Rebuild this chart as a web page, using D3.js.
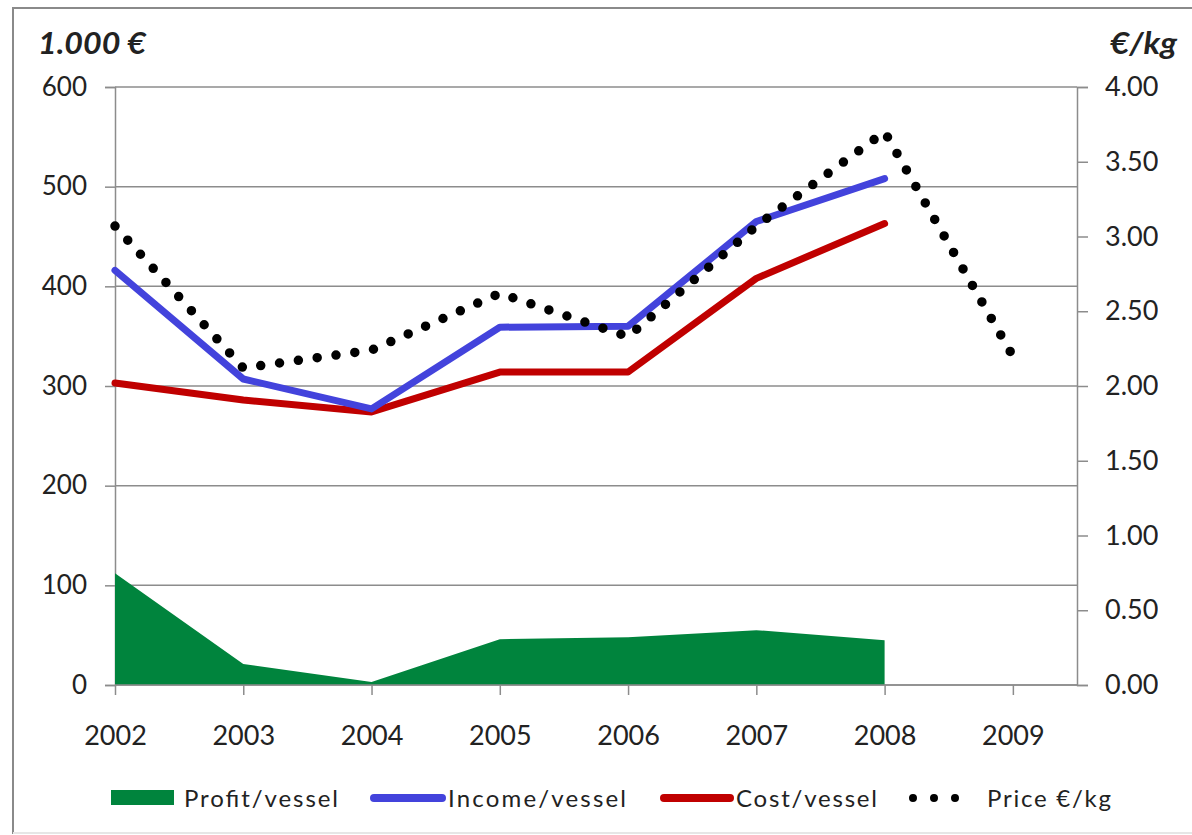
<!DOCTYPE html>
<html>
<head>
<meta charset="utf-8">
<script src="https://cdn.jsdelivr.net/npm/d3@7"></script>
<style>
  html, body { margin: 0; padding: 0; background: #fff; }
  svg { display: block; }
  text { font-family: Lato, "Noto Sans", sans-serif; fill: #222; }
</style>
</head>
<body>
<svg id="chart" width="1192" height="835"></svg>
<script>
// Fleet economics per vessel (thousand euro) and first-sale price (euro per kg)
const years = [2002, 2003, 2004, 2005, 2006, 2007, 2008, 2009];
const profit = [112, 21, 3, 46, 48, 55, 45, null];
const income = [416, 307, 277, 359, 360, 465, 508, null];
const cost = [303, 286, 274, 314, 314, 408, 463, null];
const price = [3.07, 2.12, 2.24, 2.62, 2.33, 3.07, 3.70, 2.20];

const leftTicks = [0, 100, 200, 300, 400, 500, 600];
const rightTicks = [0, 0.5, 1, 1.5, 2, 2.5, 3, 3.5, 4];

const svg = d3.select("#chart");
const W = 1192;
const plot = { left: 115, right: 1077, top: 87, bottom: 685 };

// chart frame
svg.append("rect").attr("x", 13).attr("y", 8).attr("width", W).attr("height", 825)
  .attr("fill", "#fff").attr("stroke", "#8a8a8a").attr("stroke-width", 2);
svg.append("line").attr("x1", 13).attr("x2", W).attr("y1", 833).attr("y2", 833)
  .attr("stroke", "#e6e6e6").attr("stroke-width", 2);

const x = d3.scaleLinear().domain([2002, 2009.5]).range([plot.left, plot.right]);
const yL = d3.scaleLinear().domain([0, 600]).range([plot.bottom, plot.top]);
const yR = d3.scaleLinear().domain([0, 4]).range([plot.bottom, plot.top]);

const axisColor = "#8c8c8c";

// left axis: ticks and labels
const gL = svg.append("g").attr("transform", `translate(${plot.left},0)`)
  .call(d3.axisLeft(yL).tickValues(leftTicks).tickSize(10).tickPadding(18).tickFormat(d3.format("d")));
gL.select(".domain").attr("stroke", axisColor).attr("stroke-width", 1.5);
gL.selectAll(".tick line").attr("stroke", axisColor).attr("stroke-width", 1.5);
gL.selectAll(".tick text").attr("font-size", 26).attr("font-family", "Lato").attr("fill", "#222");

// horizontal gridlines
svg.append("g").selectAll("line").data(leftTicks).join("line")
  .attr("x1", plot.left).attr("x2", plot.right)
  .attr("y1", d => yL(d)).attr("y2", d => yL(d))
  .attr("stroke", axisColor).attr("stroke-width", 1.5);

// right axis, its labels cut off at the right edge of the image
svg.append("defs").append("clipPath").attr("id", "rclip")
  .append("rect").attr("x", 1060).attr("y", 60).attr("width", 98).attr("height", 660);
const rWrap = svg.append("g").attr("clip-path", "url(#rclip)");
const gR = rWrap.append("g").attr("transform", `translate(${plot.right},0)`)
  .call(d3.axisRight(yR).tickValues(rightTicks).tickSize(11).tickPadding(17).tickFormat(d3.format(".2f")));
gR.select(".domain").attr("stroke", axisColor).attr("stroke-width", 1.5);
gR.selectAll(".tick line").attr("stroke", axisColor).attr("stroke-width", 1.5);
gR.selectAll(".tick text").attr("font-size", 27).attr("font-family", "Lato").attr("fill", "#222");

// bottom axis
const gB = svg.append("g").attr("transform", `translate(0,${plot.bottom})`)
  .call(d3.axisBottom(x).tickValues(years).tickSize(10).tickPadding(31).tickFormat(d3.format("d")));
gB.select(".domain").remove();
gB.selectAll(".tick line").attr("stroke", axisColor).attr("stroke-width", 1.5);
gB.selectAll(".tick text").attr("font-size", 27).attr("font-family", "Lato").attr("fill", "#222");

// axis titles
svg.append("text").attr("x", 38).attr("y", 54).attr("font-size", 31)
  .attr("font-weight", 700).attr("font-style", "italic")
  .attr("textLength", 108).attr("lengthAdjust", "spacingAndGlyphs").text("1.000 €");
svg.append("text").attr("x", 1110).attr("y", 54).attr("font-size", 31)
  .attr("font-weight", 700).attr("font-style", "italic")
  .attr("textLength", 67).attr("lengthAdjust", "spacingAndGlyphs").text("€/kg");

const pts = arr => years.map((yr, i) => [yr, arr[i]]).filter(d => d[1] != null);

// profit area
svg.append("path").datum(pts(profit))
  .attr("d", d3.area().x(d => x(d[0])).y0(yL(0)).y1(d => yL(d[1])))
  .attr("fill", "#00843d");

// baseline drawn over the area
svg.append("line").attr("x1", plot.left).attr("x2", plot.right)
  .attr("y1", plot.bottom).attr("y2", plot.bottom)
  .attr("stroke", axisColor).attr("stroke-width", 1.5);

const lineL = d3.line().x(d => x(d[0])).y(d => yL(d[1]));
const lineR = d3.line().x(d => x(d[0])).y(d => yR(d[1]));

svg.append("path").datum(pts(cost)).attr("d", lineL)
  .attr("fill", "none").attr("stroke", "#c00000").attr("stroke-width", 7)
  .attr("stroke-linejoin", "round").attr("stroke-linecap", "round");
svg.append("path").datum(pts(income)).attr("d", lineL)
  .attr("fill", "none").attr("stroke", "#4343dc").attr("stroke-width", 7)
  .attr("stroke-linejoin", "round").attr("stroke-linecap", "round");
svg.append("path").datum(pts(price)).attr("d", lineR)
  .attr("fill", "none").attr("stroke", "#000").attr("stroke-width", 9.5)
  .attr("stroke-dasharray", "0 19").attr("stroke-linecap", "round");

// legend
const lg = svg.append("g").attr("font-size", 24);
const ly = 798;
lg.append("rect").attr("x", 111).attr("y", 790).attr("width", 63).attr("height", 15).attr("fill", "#00843d");
lg.append("text").attr("x", 184).attr("y", ly + 9)
  .attr("textLength", 154).attr("lengthAdjust", "spacing").text("Profit/vessel");
lg.append("line").attr("x1", 374).attr("x2", 442).attr("y1", ly).attr("y2", ly)
  .attr("stroke", "#4343dc").attr("stroke-width", 8).attr("stroke-linecap", "round");
lg.append("text").attr("x", 448).attr("y", ly + 9)
  .attr("textLength", 178).attr("lengthAdjust", "spacing").text("Income/vessel");
lg.append("line").attr("x1", 664).attr("x2", 730).attr("y1", ly).attr("y2", ly)
  .attr("stroke", "#c00000").attr("stroke-width", 8).attr("stroke-linecap", "round");
lg.append("text").attr("x", 736).attr("y", ly + 9)
  .attr("textLength", 141).attr("lengthAdjust", "spacing").text("Cost/vessel");
lg.append("line").attr("x1", 913).attr("x2", 976).attr("y1", ly).attr("y2", ly)
  .attr("stroke", "#000").attr("stroke-width", 8).attr("stroke-dasharray", "0 21")
  .attr("stroke-linecap", "round");
lg.append("text").attr("x", 987).attr("y", ly + 9)
  .attr("textLength", 124).attr("lengthAdjust", "spacing").text("Price €/kg");
</script>
</body>
</html>
